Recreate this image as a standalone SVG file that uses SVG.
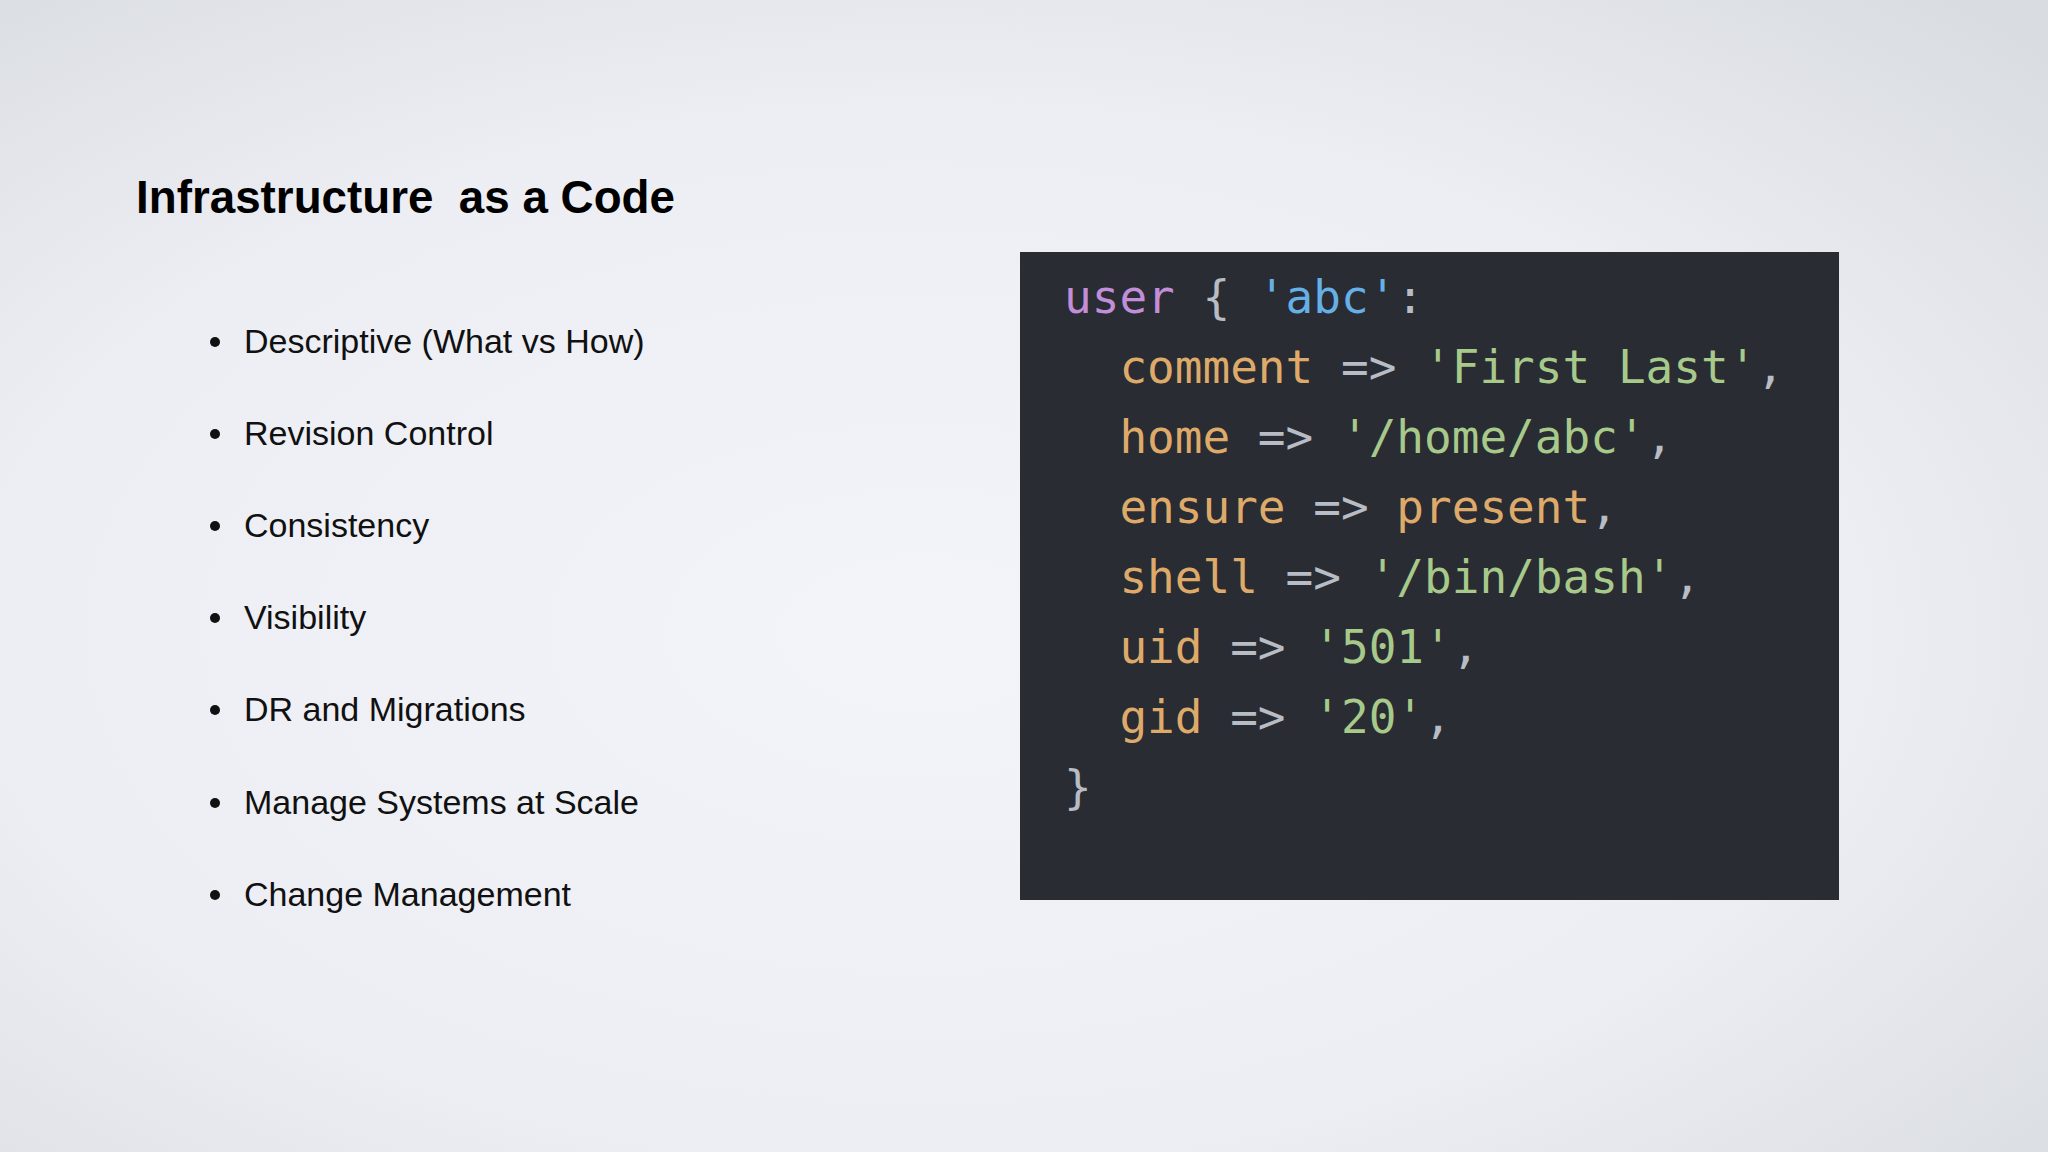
<svg xmlns="http://www.w3.org/2000/svg" width="2048" height="1152" viewBox="0 0 2048 1152">
<defs>
<radialGradient id="bg" cx="0.45" cy="0.55" r="0.75">
<stop offset="0" stop-color="#f3f4f9"/>
<stop offset="0.6" stop-color="#eceef3"/>
<stop offset="1" stop-color="#d9dce1"/>
</radialGradient>
<style>
.t{font-family:"Liberation Sans",Arial,sans-serif;font-weight:bold;font-size:46px;fill:#000;white-space:pre}
.b{font-family:"Liberation Sans",Arial,sans-serif;font-size:34px;fill:#111}
.c{font-family:"DejaVu Sans Mono","Liberation Mono",monospace;font-size:46px;white-space:pre}
.p{fill:#c38ed9}.bl{fill:#66b0e8}.o{fill:#deaa6a}.g{fill:#a7c98a}.w{fill:#b8bcc4}
</style>
</defs>
<rect width="2048" height="1152" fill="url(#bg)"/>
<text class="t" x="136" y="213" textLength="539" lengthAdjust="spacingAndGlyphs">Infrastructure  as a Code</text>
<g id="bullets">
<g class="b">
<circle cx="215" cy="342" r="5" fill="#111"/><text x="244" y="353">Descriptive (What vs How)</text>
<circle cx="215" cy="434" r="5" fill="#111"/><text x="244" y="445">Revision Control</text>
<circle cx="215" cy="526" r="5" fill="#111"/><text x="244" y="537">Consistency</text>
<circle cx="215" cy="618" r="5" fill="#111"/><text x="244" y="629">Visibility</text>
<circle cx="215" cy="710" r="5" fill="#111"/><text x="244" y="721">DR and Migrations</text>
<circle cx="215" cy="803" r="5" fill="#111"/><text x="244" y="814">Manage Systems at Scale</text>
<circle cx="215" cy="895" r="5" fill="#111"/><text x="244" y="906">Change Management</text>
</g>
</g>
<g id="code">
<rect x="1020" y="252" width="819" height="648" fill="#292c33"/>
<text class="c" x="1064" y="313"><tspan class="p">user</tspan><tspan class="w"> { </tspan><tspan class="bl">'abc'</tspan><tspan class="w">:</tspan></text>
<text class="c" x="1064" y="383"><tspan class="o">  comment</tspan><tspan class="w"> =&gt; </tspan><tspan class="g">'First Last'</tspan><tspan class="w">,</tspan></text>
<text class="c" x="1064" y="453"><tspan class="o">  home</tspan><tspan class="w"> =&gt; </tspan><tspan class="g">'/home/abc'</tspan><tspan class="w">,</tspan></text>
<text class="c" x="1064" y="523"><tspan class="o">  ensure</tspan><tspan class="w"> =&gt; </tspan><tspan class="o">present</tspan><tspan class="w">,</tspan></text>
<text class="c" x="1064" y="593"><tspan class="o">  shell</tspan><tspan class="w"> =&gt; </tspan><tspan class="g">'/bin/bash'</tspan><tspan class="w">,</tspan></text>
<text class="c" x="1064" y="663"><tspan class="o">  uid</tspan><tspan class="w"> =&gt; </tspan><tspan class="g">'501'</tspan><tspan class="w">,</tspan></text>
<text class="c" x="1064" y="733"><tspan class="o">  gid</tspan><tspan class="w"> =&gt; </tspan><tspan class="g">'20'</tspan><tspan class="w">,</tspan></text>
<text class="c w" x="1064" y="803">}</text>
</g>
</svg>
